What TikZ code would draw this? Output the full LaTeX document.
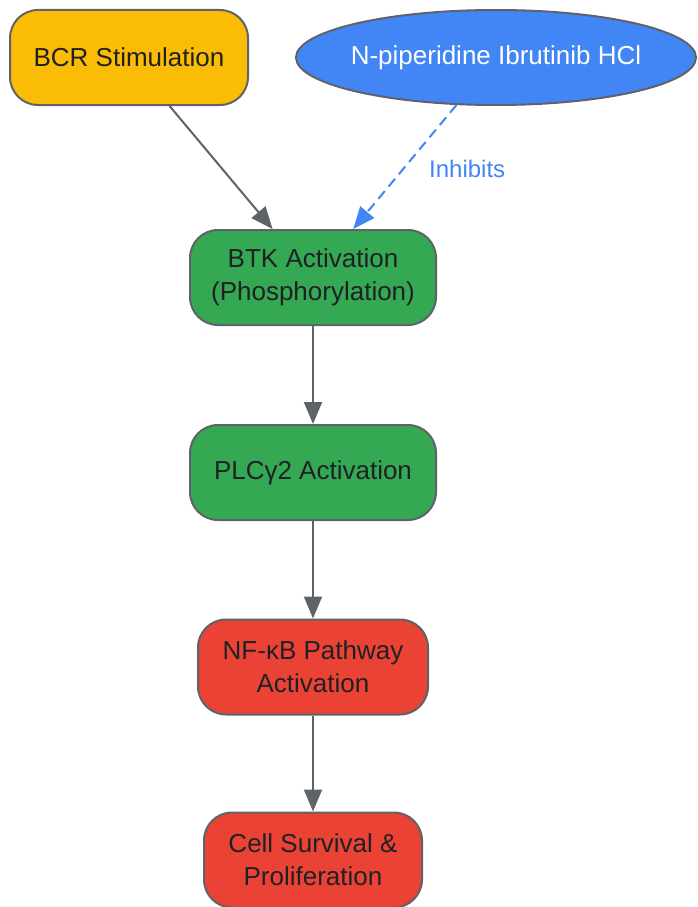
\documentclass[tikz,border=0pt]{standalone}
\usepackage{xcolor}
\usepackage{fontspec}
\setmainfont{Liberation Sans}
\usepackage{tikz}
\usetikzlibrary{positioning, shapes, arrows.meta}

\definecolor{bcryellow}{HTML}{FBBC05}
\definecolor{drugblue}{HTML}{4285F4}
\definecolor{actgreen}{HTML}{34A853}
\definecolor{outred}{HTML}{EA4335}
\definecolor{edgegray}{HTML}{5F6368}
\definecolor{labeltext}{HTML}{202124}

\begin{document}
\begin{tikzpicture}[x=1pt, y=-1pt, every node/.style={font=\fontsize{26}{33}\selectfont}]
			\tikzstyle{stepbox}=[draw=edgegray, line width=2, rounded corners=28, minimum height=95, inner sep=0, text=labeltext, align=center]
			\tikzstyle{flow}=[-{Triangle[length=22pt, width=18pt]}, line width=2, draw=edgegray]
			
			\useasboundingbox (0,0) rectangle (697,907);
			
			\node (bcr) at (129,57.5) [stepbox, fill=bcryellow, minimum width=238] {BCR Stimulation};
			\node (drug) at (496,57.5) [ellipse, draw=edgegray, line width=2, fill=drugblue, text=white, minimum width=400, minimum height=95, inner sep=0, inner xsep=-12] {N-piperidine Ibrutinib HCl};
			
			\node (btk) at (313,277.5) [stepbox, fill=actgreen, minimum width=246] {BTK Activation\\(Phosphorylation)};
			\node (plc) at (313,472.5) [stepbox, fill=actgreen, minimum width=246] {PLCγ2 Activation};
			\node (nfkb) at (313,667) [stepbox, fill=outred, minimum width=230] {NF-κB Pathway\\Activation};
			\node (cell) at (313,860) [stepbox, fill=outred, minimum width=218] {Cell Survival \&\\Proliferation};
			
			\draw [flow] (bcr) -- (btk);
			\draw [flow, draw=drugblue, dash pattern=on 10pt off 6pt] (drug) -- (btk)
				node [midway, right, xshift=20, yshift=-2, text=drugblue, font=\fontsize{24}{29}\selectfont] {Inhibits};
			\draw [flow] (btk) -- (plc);
			\draw [flow] (plc) -- (nfkb);
			\draw [flow] (nfkb) -- (cell);
			\end{tikzpicture}
\end{document}
